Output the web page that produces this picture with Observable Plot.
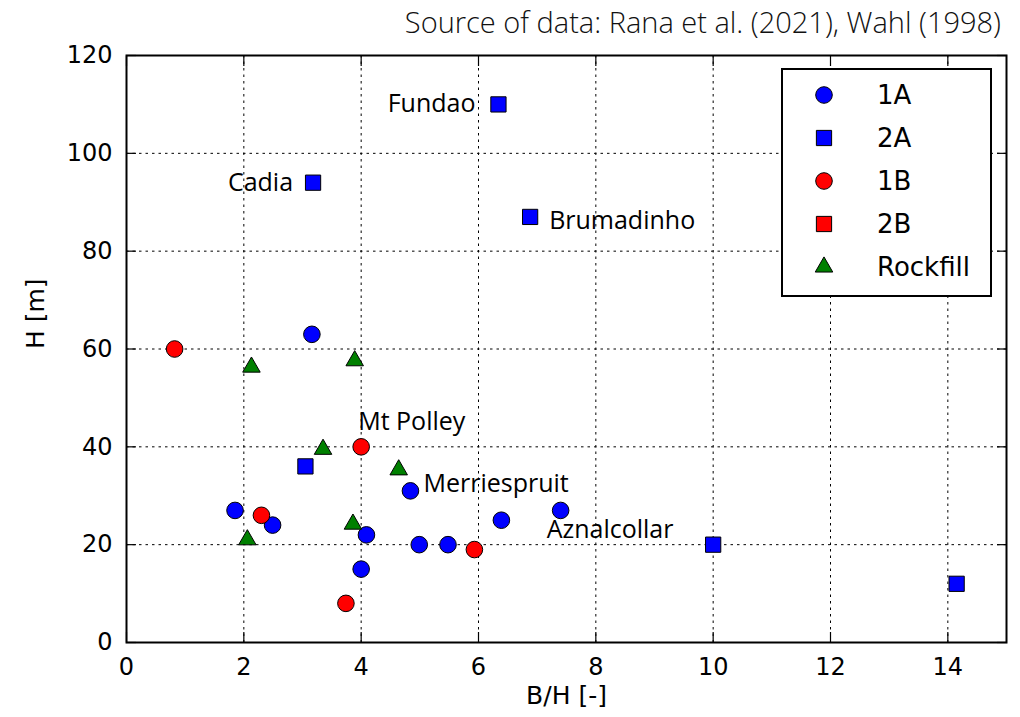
<!DOCTYPE html>
<html>
<head>
<meta charset="utf-8">
<script src="https://cdn.jsdelivr.net/npm/d3@7"></script>
<script src="https://cdn.jsdelivr.net/npm/@observablehq/plot@0.6"></script>
<style>
  html, body { margin: 0; padding: 0; background: #fff; }
  #wrap { position: relative; width: 1020px; height: 717px; overflow: hidden; }
  #source { height: 38px; width: 1020px; box-sizing: border-box; text-align: right; padding-right: 19px;
    font-family: "Open Sans", sans-serif; font-weight: 300; font-size: 29px; line-height: 44px; color: #111;
    overflow: visible; white-space: nowrap; }
  #chart svg { display: block; }
  #legend { position: absolute; left: 781px; top: 68px; width: 211px; height: 229px; box-sizing: border-box;
    border: 2px solid #000; background: #fff; }
</style>
</head>
<body>
<div id="wrap">
  <div id="source">Source of data: Rana et al. (2021), Wahl (1998)</div>
  <div id="chart"></div>
  <div id="legend"></div>
</div>
<script>
// ---- data ----
const cat1A_BH = [3.16, 4.84, 1.85, 2.49, 4.09, 4.99, 5.48, 6.39, 7.40, 4.00];
const cat1A_H  = [63, 31, 27, 24, 22, 20, 20, 25, 27, 15];
const cat2A_BH = [6.34, 3.18, 6.88, 3.05, 10.0, 14.15];
const cat2A_H  = [110, 94, 87, 36, 20, 12];
const cat1B_BH = [0.82, 4.00, 2.30, 5.93, 3.74];
const cat1B_H  = [60, 40, 26, 19, 8];
const cat2B_BH = [];
const cat2B_H  = [];
const rock_BH  = [2.13, 3.89, 3.35, 4.64, 3.86, 2.06];
const rock_H   = [56.3, 57.6, 39.5, 35.3, 24.2, 21.0];

const labelNames = ["Fundao", "Cadia", "Brumadinho", "Mt Polley", "Merriespruit", "Aznalcollar"];
const labelBH    = [6.34, 3.18, 6.88, 4.00, 4.84, 7.40];
const labelH     = [110, 94, 87, 40, 31, 27];

const legendNames = ["1A", "2A", "1B", "2B", "Rockfill"];
const xTicks = [0, 2, 4, 6, 8, 10, 12, 14];
const yTicks = [0, 20, 40, 60, 80, 100, 120];
const xGrid = [2, 4, 6, 8, 10, 12, 14];
const yGrid = [20, 40, 60, 80, 100];

// ---- build tables ----
const zip = (xs, ys) => xs.map((x, i) => ({bh: x, h: ys[i]}));
const d1A = zip(cat1A_BH, cat1A_H);
const d2A = zip(cat2A_BH, cat2A_H);
const d1B = zip(cat1B_BH, cat1B_H);
const d2B = zip(cat2B_BH, cat2B_H);
const dR  = zip(rock_BH, rock_H);
const labels = labelNames.map((n, i) => ({name: n, bh: labelBH[i], h: labelH[i]}));

const BLUE = "#0000ff", RED = "#ff0000", GREEN = "#008000";
const tickFont = "DejaVu Sans";
const annFont = "Open Sans";

// label placement styles (offsets in px)
const labelStyle = {
  "Fundao":       {anchor: "end",   dx: -23, dy: 0},
  "Cadia":        {anchor: "end",   dx: -20, dy: 0},
  "Brumadinho":   {anchor: "start", dx: 19,  dy: 4},
  "Mt Polley":    {anchor: "start", dx: -3,  dy: -25},
  "Merriespruit": {anchor: "start", dx: 13,  dy: -7},
  "Aznalcollar":  {anchor: "start", dx: -14, dy: 20}
};

const chart = Plot.plot({
  width: 1020,
  height: 679,
  marginTop: 17,
  marginBottom: 75,
  marginLeft: 126,
  marginRight: 14,
  style: {fontFamily: tickFont, background: "#fff", color: "#000"},
  x: {domain: [0, 15], label: null},
  y: {domain: [0, 120], label: null},
  marks: [
    Plot.gridX(xGrid, {stroke: "#000", strokeOpacity: 1, strokeWidth: 1, strokeDasharray: "2.5,4"}),
    Plot.gridY(yGrid, {stroke: "#000", strokeOpacity: 1, strokeWidth: 1, strokeDasharray: "2.5,4"}),
    // inward ticks on all sides
    Plot.axisX(xTicks, {anchor: "bottom", tickSize: 10, dy: -10, tickFormat: () => "", label: null, strokeWidth: 1.2}),
    Plot.axisX(xTicks, {anchor: "top", tickSize: 10, dy: 10, tickFormat: () => "", label: null, strokeWidth: 1.2}),
    Plot.axisY(yTicks, {anchor: "left", tickSize: 10, dx: 10, tickFormat: () => "", label: null, strokeWidth: 1.2}),
    Plot.axisY(yTicks, {anchor: "right", tickSize: 10, dx: -10, tickFormat: () => "", label: null, strokeWidth: 1.2}),
    // tick labels
    Plot.axisX(xTicks, {anchor: "bottom", tickSize: 0, tickPadding: 15, fontSize: 24, label: null, fill: "#000"}),
    Plot.axisY(yTicks, {anchor: "left", tickSize: 0, tickPadding: 14, fontSize: 24, label: null, fill: "#000"}),
    // axis titles
    Plot.text(["B/H [-]"], {frameAnchor: "bottom", dy: 61, fontSize: 25, fill: "#000"}),
    Plot.text(["H [m]"], {frameAnchor: "left", dx: -91, rotate: -90, fontSize: 25, fill: "#000"}),
    // points
    Plot.dot(d1A, {x: "bh", y: "h", symbol: "circle", r: 8.3, fill: BLUE, stroke: "#000", strokeWidth: 1}),
    Plot.dot(d2A, {x: "bh", y: "h", symbol: "square", r: 8.6, fill: BLUE, stroke: "#000", strokeWidth: 1}),
    Plot.dot(d1B, {x: "bh", y: "h", symbol: "circle", r: 8.3, fill: RED, stroke: "#000", strokeWidth: 1}),
    Plot.dot(d2B, {x: "bh", y: "h", symbol: "square", r: 8.6, fill: RED, stroke: "#000", strokeWidth: 1}),
    Plot.dot(dR,  {x: "bh", y: "h", symbol: "triangle", r: 6.5, fill: GREEN, stroke: "#000", strokeWidth: 1}),
    // annotations
    ...labels.map(l => Plot.text([l], {
      x: "bh", y: "h", text: "name",
      textAnchor: labelStyle[l.name].anchor,
      dx: labelStyle[l.name].dx, dy: labelStyle[l.name].dy,
      fontFamily: annFont, fontSize: 25, fill: "#000"
    })),
    Plot.frame({stroke: "#000", strokeWidth: 2})
  ]
});
document.getElementById("chart").appendChild(chart);

// ---- legend ----
const legendStyles = [
  {symbol: d3.symbolCircle, fill: BLUE, r: 8.3},
  {symbol: d3.symbolSquare, fill: BLUE, r: 8.6},
  {symbol: d3.symbolCircle, fill: RED, r: 8.3},
  {symbol: d3.symbolSquare, fill: RED, r: 8.6},
  {symbol: d3.symbolTriangle, fill: GREEN, r: 6.5}
];
const lg = d3.select("#legend").append("svg")
  .attr("width", 207).attr("height", 225)
  .style("display", "block");
legendNames.forEach((name, i) => {
  const cy = 25 + i * 43;
  const st = legendStyles[i];
  lg.append("path")
    .attr("transform", `translate(41,${cy})`)
    .attr("d", d3.symbol(st.symbol, Math.PI * st.r * st.r)())
    .attr("fill", st.fill).attr("stroke", "#000").attr("stroke-width", 1);
  lg.append("text")
    .attr("x", 94).attr("y", cy)
    .attr("dy", "0.36em")
    .attr("font-family", tickFont)
    .attr("font-size", 26)
    .attr("fill", "#000")
    .text(name);
});
</script>
</body>
</html>
